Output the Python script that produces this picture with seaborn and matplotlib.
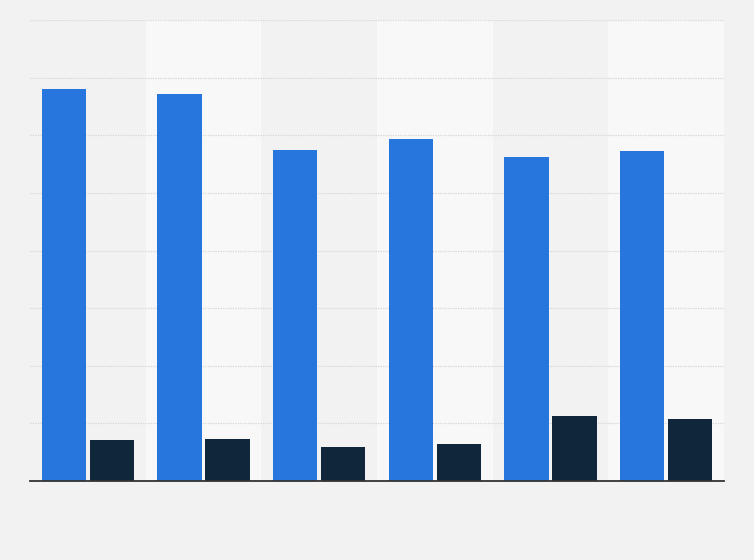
import pandas as pd
import matplotlib
matplotlib.use('Agg')
import matplotlib.pyplot as plt
import seaborn as sns

# values (no labels shown in the reference)
categories = ['1', '2', '3', '4', '5', '6']
series_a = [68.1, 67.2, 57.5, 59.4, 56.3, 57.3]
series_b = [7.1, 7.3, 5.9, 6.4, 11.3, 10.8]
series_names = ['A', 'B']
colors = ['#2776dd', '#10263b']

df = pd.DataFrame({
    'category': categories * 2,
    'value': series_a + series_b,
    'series': [series_names[0]] * len(categories) + [series_names[1]] * len(categories),
})

sns.set_style('white')
fig = plt.figure(figsize=(7.54, 5.6), dpi=100, facecolor='#f2f2f2')
ax = fig.add_axes([30 / 754, 79 / 560, 694 / 754, 461 / 560])
ax.set_facecolor('#f2f2f2')

# alternating column bands
for i in range(len(categories)):
    if i % 2 == 1:
        ax.axvspan(i - 0.5, i + 0.5, color='#f8f8f8', zorder=0, lw=0)

sns.barplot(data=df, x='category', y='value', hue='series', order=categories,
            hue_order=series_names, palette=colors, width=0.83, gap=0.083,
            linewidth=0, saturation=1, legend=False, ax=ax, zorder=3)

ax.set_xlim(-0.5, len(categories) - 0.5)
ax.set_ylim(0, 80)
ax.set_yticks(range(0, 81, 10))
ax.yaxis.grid(True, color='#d6d6d6', linestyle=(0, (1, 1)), linewidth=0.9, zorder=1)
ax.set_axisbelow(True)
ax.tick_params(left=False, bottom=False, labelleft=False, labelbottom=False)
for s in ['top', 'right', 'left']:
    ax.spines[s].set_visible(False)
ax.spines['bottom'].set_color('#333333')
ax.spines['bottom'].set_linewidth(1.3)
ax.spines['bottom'].set_zorder(5)
ax.set_xlabel('')
ax.set_ylabel('')

fig.savefig('out.png', dpi=100, facecolor=fig.get_facecolor())
